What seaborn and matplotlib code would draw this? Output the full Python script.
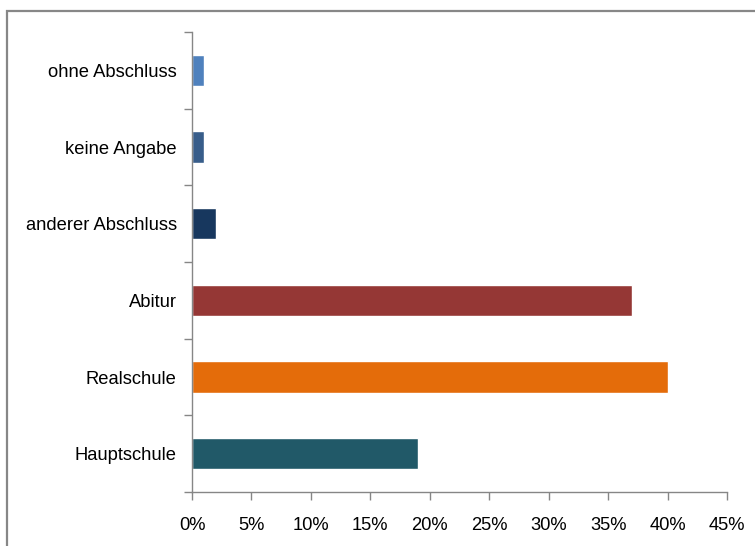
import matplotlib
matplotlib.use("Agg")
import matplotlib.pyplot as plt
import matplotlib.patches as mpatches
from matplotlib.ticker import FuncFormatter, FixedLocator
import seaborn as sns
import pandas as pd

categories = ["ohne Abschluss", "keine Angabe", "anderer Abschluss",
              "Abitur", "Realschule", "Hauptschule"]
shares = [0.01, 0.01, 0.02, 0.37, 0.40, 0.19]
bar_colors = ["#4F81BD", "#385D8A", "#17375E", "#953735", "#E46C0A", "#215968"]

df = pd.DataFrame({"Abschluss": categories, "Anteil": shares})

sns.set_style("white")
plt.rcParams["font.family"] = ["Liberation Sans", "DejaVu Sans"]

fig = plt.figure(figsize=(7.55, 5.46), dpi=100)
ax = fig.add_axes([192 / 755, 1 - 492 / 546, (727 - 192) / 755, (492 - 32) / 546])

sns.barplot(data=df, y="Abschluss", x="Anteil", hue="Abschluss",
            palette=bar_colors, orient="h", width=0.41, legend=False,
            saturation=1, ax=ax)

ax.set_xlim(0, 0.45)
ax.set_ylim(5.5, -0.5)
ax.set_xticks([i * 0.05 for i in range(10)])
ax.xaxis.set_major_formatter(FuncFormatter(lambda v, p: f"{round(v * 100)}%"))
ax.set_xlabel("")
ax.set_ylabel("")

# Excel-style category ticks between the bars
ax.yaxis.set_minor_locator(FixedLocator([i - 0.5 for i in range(7)]))
ax.tick_params(left=True, bottom=True, which="both")
ax.tick_params(axis="y", which="major", length=0, pad=11, labelsize=13.2,
               labelcolor="black")
ax.tick_params(axis="y", which="minor", length=6, width=1, color="#868686",
               direction="out")
ax.tick_params(axis="x", which="major", length=6, width=1, color="#868686",
               direction="out", pad=12, labelsize=13.2, labelcolor="black")

for side in ["top", "right"]:
    ax.spines[side].set_visible(False)
for side in ["left", "bottom"]:
    ax.spines[side].set_color("#868686")
    ax.spines[side].set_linewidth(1)

# chart frame (partially cut off at right and bottom)
frame = mpatches.Rectangle((7 / 755, -0.2), 1.2, 1.2 - 11 / 546,
                           transform=fig.transFigure, fill=False,
                           edgecolor="#878787", linewidth=1.6)
fig.patches.append(frame)

fig.savefig("out.png", dpi=100)
plt.close(fig)
